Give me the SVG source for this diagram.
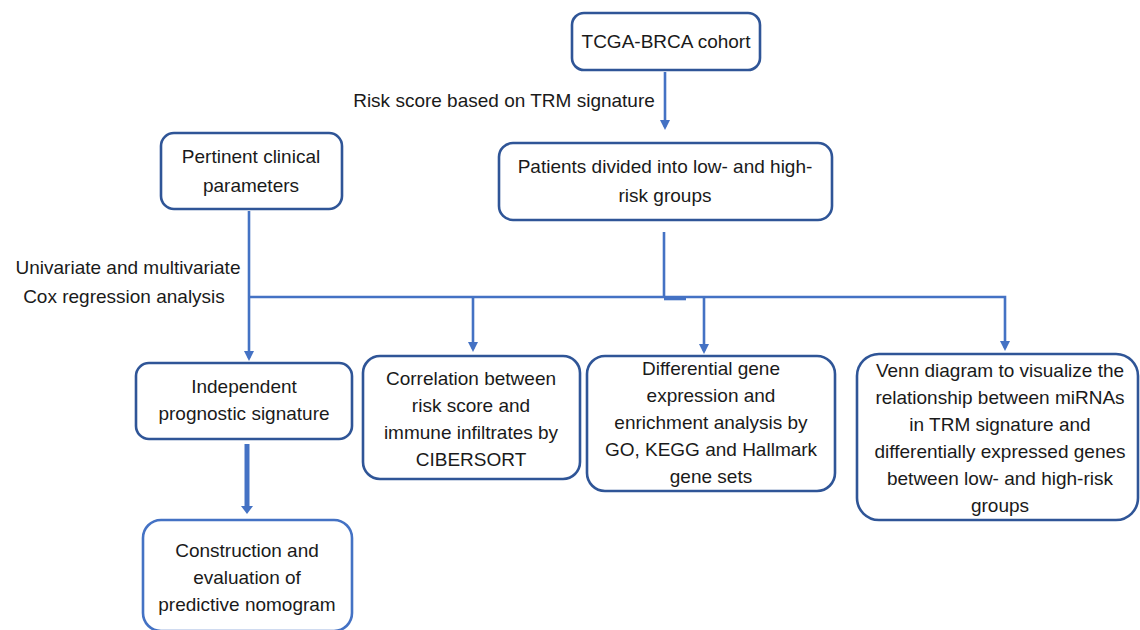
<svg xmlns="http://www.w3.org/2000/svg" width="1140" height="630" viewBox="0 0 1140 630">
<style>
.box{fill:#ffffff;stroke:#2F5597;stroke-width:2.6}
.box2{fill:#ffffff;stroke:#4472C4;stroke-width:2.6}
.t{font-family:"Liberation Sans",Arial,sans-serif;font-size:19px;fill:#1a1a1a;text-anchor:middle}
.c{fill:none;stroke:#4472C4;stroke-width:2.6}
</style>
<defs>
<marker id="ah" viewBox="0 0 10 10" refX="7" refY="5" markerWidth="10" markerHeight="10" markerUnits="userSpaceOnUse" orient="auto">
<path d="M0,0 L10,5 L0,10 z" fill="#4472C4"/>
</marker>
</defs>
<rect width="1140" height="630" fill="#ffffff"/>
<g id="connectors">
<path class="c" d="M665 72 V127" marker-end="url(#ah)"/>
<path class="c" d="M664 232 V298"/>
<path class="c" d="M664 299 H686" stroke-width="2"/>
<path class="c" d="M249 211 V358" marker-end="url(#ah)"/>
<path class="c" d="M249 297 H1005 V348" marker-end="url(#ah)"/>
<path class="c" d="M473 297 V349" marker-end="url(#ah)"/>
<path class="c" d="M704 297 V351" marker-end="url(#ah)"/>
<path d="M247 444 V507" fill="none" stroke="#4472C4" stroke-width="5"/>
<polygon points="241,506 253,506 247,514" fill="#4472C4"/>
<text class="t" x="504" y="107">Risk score based on TRM signature</text>
<text class="t" x="128" y="274">Univariate and multivariate</text>
<text class="t" x="124" y="303">Cox regression analysis</text>
</g>
<g id="tcga">
<rect class="box" x="572" y="13" width="188" height="57" rx="12"/>
<text class="t" x="666" y="48">TCGA-BRCA cohort</text>
</g>
<g id="patients">
<rect class="box" x="499" y="143" width="333" height="77" rx="14"/>
<text class="t" x="665" y="173">Patients divided into low- and high-</text>
<text class="t" x="665" y="202">risk groups</text>
</g>
<g id="clinical">
<rect class="box" x="161" y="133" width="181" height="76" rx="13"/>
<text class="t" x="251" y="163">Pertinent clinical</text>
<text class="t" x="251" y="192">parameters</text>
</g>
<g id="independent">
<rect class="box" x="136" y="363" width="216" height="76" rx="13"/>
<text class="t" x="244" y="393">Independent</text>
<text class="t" x="244" y="420">prognostic signature</text>
</g>
<g id="nomogram">
<rect class="box2" x="143" y="520" width="209" height="111" rx="18"/>
<text class="t" x="247" y="557">Construction and</text>
<text class="t" x="247" y="584">evaluation of</text>
<text class="t" x="247" y="611">predictive nomogram</text>
</g>
<g id="correlation">
<rect class="box" x="363" y="356" width="217" height="123" rx="17"/>
<text class="t" x="471" y="385">Correlation between</text>
<text class="t" x="471" y="412">risk score and</text>
<text class="t" x="471" y="439">immune infiltrates by</text>
<text class="t" x="471" y="466">CIBERSORT</text>
</g>
<g id="differential">
<rect class="box" x="587" y="356" width="248" height="135" rx="18"/>
<text class="t" x="711" y="375">Differential gene</text>
<text class="t" x="711" y="402">expression and</text>
<text class="t" x="711" y="429">enrichment analysis by</text>
<text class="t" x="711" y="456">GO, KEGG and Hallmark</text>
<text class="t" x="711" y="483">gene sets</text>
</g>
<g id="venn">
<rect class="box" x="857" y="354" width="281" height="166" rx="22"/>
<text class="t" x="1000" y="377">Venn diagram to visualize the</text>
<text class="t" x="1000" y="404">relationship between miRNAs</text>
<text class="t" x="1000" y="431">in TRM signature and</text>
<text class="t" x="1000" y="458">differentially expressed genes</text>
<text class="t" x="1000" y="485">between low- and high-risk</text>
<text class="t" x="1000" y="512">groups</text>
</g>
</svg>
